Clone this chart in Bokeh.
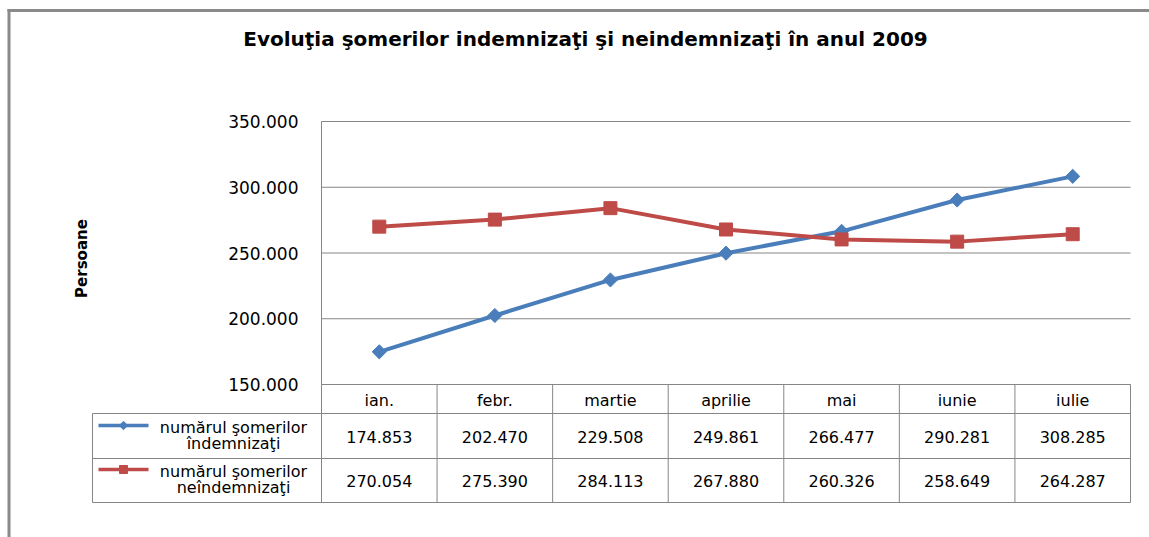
import numpy as np
from bokeh.plotting import figure
from bokeh.models import Range1d, LinearAxis, FixedTicker, ColumnDataSource
from bokeh.embed import file_html
from bokeh.resources import INLINE
from bokeh.core.properties import value

# ---------------- data ----------------
months = ["ian.", "febr.", "martie", "aprilie", "mai", "iunie", "iulie"]
indemnizati = [174853, 202470, 229508, 249861, 266477, 290281, 308285]
neindemnizati = [270054, 275390, 284113, 267880, 260326, 258649, 264287]
series_lines = [["numărul şomerilor", "îndemnizaţi"],
                ["numărul şomerilor", "neîndemnizaţi"]]
y_ticks = [150000, 200000, 250000, 300000, 350000]
y_tick_labels = ["150.000", "200.000", "250.000", "300.000", "350.000"]
title_text = "Evoluţia şomerilor indemnizaţi şi neindemnizaţi în anul 2009"
y_label = "Persoane"

BLUE = "#4A7EBB"
RED = "#BE4B48"
GRID = "#868686"
FONT = "DejaVu Sans"


def fmt(v):
    return f"{v:,}".replace(",", ".")


# ---------------- layout (pixels) ----------------
W, H = 1149, 537
PLOT_L, PLOT_R, PLOT_T, PLOT_B = 321, 1130, 121, 384
n = len(months)
colw = (PLOT_R - PLOT_L) / n
k = (y_ticks[-1] - y_ticks[0]) / (PLOT_B - PLOT_T)


def X(px):
    return (px - PLOT_L) / colw


def Y(py):
    return y_ticks[0] - (py - PLOT_B) * k


xc = [i + 0.5 for i in range(n)]          # category centres

p = figure(width=W, height=H, x_range=Range1d(X(0), X(W)),
           y_range=Range1d(Y(H), Y(0)), min_border=0,
           x_axis_location=None, y_axis_location=None,
           output_backend="svg", toolbar_location=None)
p.outline_line_color = None
p.grid.visible = False
p.background_fill_color = "white"
p.border_fill_color = "white"

# outer frame (top and left border)
p.segment(x0=[X(8.5), X(7)], x1=[X(8.5), X(W + 20)], y0=[Y(8.5), Y(10)],
          y1=[Y(H + 20), Y(10)], line_color="#8a8a8a", line_width=3)

# title
p.text(x=[X(585)], y=[Y(38)], text=[title_text], text_font=value(FONT),
       text_font_size="20px", text_font_style="bold", text_color="black",
       text_align="center", text_baseline="middle")

# y axis label
p.text(x=[X(81)], y=[Y(258)], text=[y_label], angle=np.pi / 2,
       text_font=value(FONT), text_font_size="15px", text_font_style="bold",
       text_color="black", text_align="center", text_baseline="middle")

# horizontal grid lines
p.segment(x0=[0] * len(y_ticks), x1=[n] * len(y_ticks), y0=y_ticks, y1=y_ticks,
          line_color=GRID, line_width=1)

# y axis
yax = LinearAxis(ticker=FixedTicker(ticks=y_ticks),
                 major_label_overrides=dict(zip(y_ticks, y_tick_labels)),
                 fixed_location=0, bounds=(y_ticks[0], y_ticks[-1]))
yax.major_tick_out = 0
yax.major_tick_in = 0
yax.minor_tick_line_color = None
yax.major_tick_line_color = None
yax.major_label_standoff = 23
yax.major_label_text_font = FONT
yax.major_label_text_font_size = "17px"
yax.major_label_text_color = "black"
yax.axis_line_color = GRID
p.add_layout(yax, "left")

# header row of the data table (category axis)
hdr = LinearAxis(ticker=FixedTicker(ticks=xc, minor_ticks=[]),
                 major_label_overrides={x: m for x, m in zip(xc, months)},
                 fixed_location=y_ticks[0], bounds=(0, n))
hdr.axis_line_color = GRID
hdr.major_tick_line_color = None
hdr.minor_tick_line_color = None
hdr.major_tick_out = 0
hdr.major_tick_in = 0
hdr.major_label_standoff = 6
hdr.major_label_text_font = FONT
hdr.major_label_text_font_size = "16px"
hdr.major_label_text_color = "black"
p.add_layout(hdr, "below")

# series
src = ColumnDataSource(dict(x=xc, a=indemnizati, b=neindemnizati))
p.line("x", "a", source=src, line_color=BLUE, line_width=4)
p.scatter("x", "a", source=src, marker="square", angle=np.pi / 4, size=10,
          fill_color=BLUE, line_color=BLUE)
p.line("x", "b", source=src, line_color=RED, line_width=4)
p.scatter("x", "b", source=src, marker="square", size=13,
          fill_color=RED, line_color=RED)

# ---------------- data table ----------------
leg_left = X(92)
row_lines = [Y(413), Y(458), Y(502)]
p.segment(x0=[leg_left] * 3, x1=[n] * 3, y0=row_lines, y1=row_lines,
          line_color=GRID, line_width=1)
vx_tbl = [leg_left] + list(range(n + 1))
p.segment(x0=vx_tbl, x1=vx_tbl,
          y0=[Y(413)] + [Y(384)] * (n + 1), y1=[Y(502)] * len(vx_tbl),
          line_color=GRID, line_width=1)

for vals, yy in ((indemnizati, Y(436)), (neindemnizati, Y(480))):
    p.text(x=xc, y=[yy] * n, text=[fmt(v) for v in vals],
           text_font=value(FONT), text_font_size="16px", text_color="black",
           text_align="center", text_baseline="middle")

sym_x0, sym_x1 = X(98), X(148)
sym_xc = (sym_x0 + sym_x1) / 2
txt_x = X(233)
for k_, (col, sy, ms, ang) in enumerate(((BLUE, 425, 6, np.pi / 4),
                                         (RED, 469, 8, 0))):
    p.line(x=[sym_x0, sym_x1], y=[Y(sy), Y(sy)], line_color=col, line_width=3.5)
    p.scatter(x=[sym_xc], y=[Y(sy)], marker="square", size=ms, angle=ang,
              fill_color=col, line_color=col)
    p.text(x=[txt_x, txt_x], y=[Y(sy + 2), Y(sy + 18)], text=series_lines[k_],
           text_font=value(FONT), text_font_size="16px", text_color="black",
           text_align="center", text_baseline="middle")

open("out.html", "w").write(file_html(p, INLINE))
